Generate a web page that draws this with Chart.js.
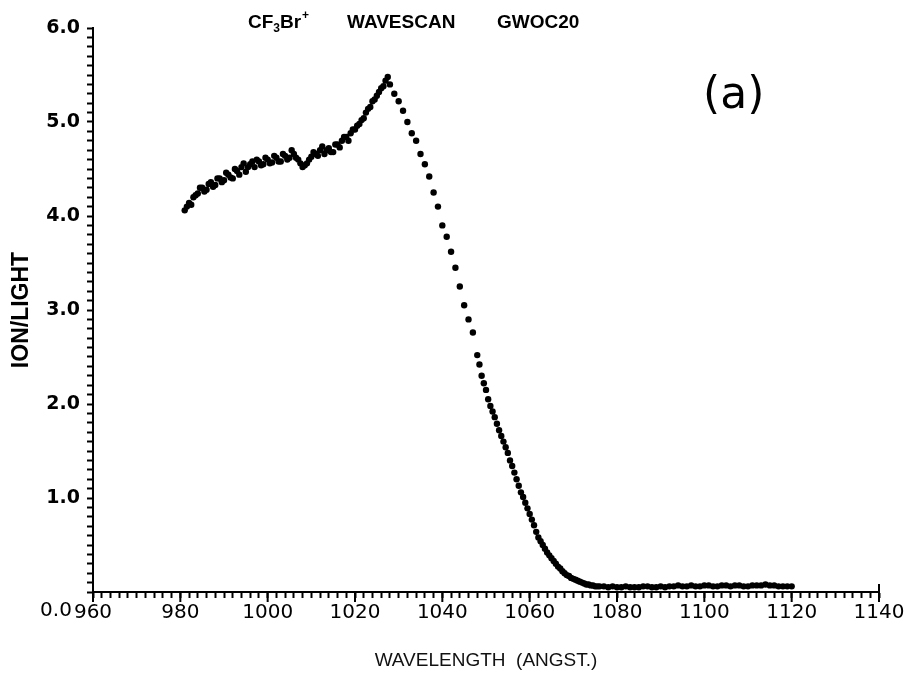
<!DOCTYPE html>
<html>
<head>
<meta charset="utf-8">
<script src="https://cdn.jsdelivr.net/npm/chart.js@4/dist/chart.umd.min.js"></script>
<style>
  html, body { margin: 0; padding: 0; background: #fff; }
  #wrap { width: 908px; height: 676px; }
</style>
</head>
<body>
<div id="wrap"><canvas id="scan" width="908" height="676"></canvas></div>
<script>
// wavelength (Angstrom) and ion/light ratio
const wavelength = [
  981, 981.5, 982, 982.5, 983, 983.5, 984, 984.5, 985, 985.5, 986, 986.5, 987, 987.5, 988, 988.5, 989, 989.5, 990, 990.5,
  991, 991.5, 992, 992.5, 993, 993.5, 994, 994.5, 995, 995.5, 996, 996.5, 997, 997.5, 998, 998.5, 999, 999.5, 1000, 1000.5,
  1001, 1001.5, 1002, 1002.5, 1003, 1003.5, 1004, 1004.5, 1005, 1005.5, 1006, 1006.5, 1007, 1007.5, 1008, 1008.5, 1009, 1009.5, 1010, 1010.5,
  1011, 1011.5, 1012, 1012.5, 1013, 1013.5, 1014, 1014.5, 1015, 1015.5, 1016, 1016.5, 1017, 1017.5, 1018, 1018.5, 1019, 1019.5, 1020, 1020.5,
  1021, 1021.5, 1022, 1022.5, 1023, 1023.5, 1024, 1024.5, 1025, 1025.5, 1026, 1026.5, 1027, 1027.5,
  1028, 1029, 1030, 1031, 1032, 1033, 1034, 1035, 1036, 1037, 1038, 1039, 1040, 1041, 1042, 1043, 1044, 1045, 1046, 1047,
  1048, 1048.5, 1049, 1049.5, 1050, 1050.5, 1051, 1051.5, 1052, 1052.5, 1053, 1053.5, 1054, 1054.5, 1055, 1055.5,
  1056, 1056.5, 1057, 1057.5, 1058, 1058.5, 1059, 1059.5, 1060, 1060.5, 1061, 1061.5, 1062, 1062.5, 1063, 1063.5,
  1064, 1064.5, 1065, 1065.5, 1066, 1066.5, 1067, 1067.5, 1068, 1068.5, 1069, 1069.5, 1070, 1070.5, 1071, 1071.5,
  1072, 1072.5, 1073, 1073.5, 1074, 1074.5, 1075, 1075.5,
  1076, 1077, 1078, 1079, 1080, 1081, 1082, 1083, 1084, 1085, 1086, 1087, 1088, 1089, 1090,
  1091, 1092, 1093, 1094, 1095, 1096, 1097, 1098, 1099, 1100, 1101, 1102, 1103, 1104, 1105,
  1106, 1107, 1108, 1109, 1110, 1111, 1112, 1113, 1114, 1115, 1116, 1117, 1118, 1119, 1120
];
const ionLight = [
  4.06, 4.10, 4.14, 4.12, 4.20, 4.22, 4.24, 4.30, 4.30, 4.26, 4.28, 4.34, 4.36, 4.31, 4.33, 4.40, 4.40, 4.36, 4.38, 4.46,
  4.44, 4.41, 4.40, 4.50, 4.48, 4.44, 4.52, 4.56, 4.47, 4.52, 4.55, 4.58, 4.52, 4.60, 4.58, 4.54, 4.55, 4.62, 4.60, 4.56,
  4.57, 4.64, 4.62, 4.58, 4.58, 4.66, 4.64, 4.60, 4.62, 4.70, 4.66, 4.62, 4.60, 4.56, 4.52, 4.54, 4.56, 4.60, 4.63, 4.68,
  4.66, 4.64, 4.70, 4.74, 4.66, 4.70, 4.72, 4.68, 4.68, 4.76, 4.76, 4.73, 4.80, 4.84, 4.84, 4.80, 4.88, 4.92, 4.92, 4.96,
  4.98, 5.02, 5.04, 5.10, 5.14, 5.16, 5.22, 5.24, 5.28, 5.32, 5.36, 5.38, 5.44, 5.48,
  5.40, 5.30, 5.22, 5.12, 5.00, 4.88, 4.80, 4.66, 4.55, 4.42, 4.25, 4.10, 3.90, 3.78, 3.62, 3.45, 3.25, 3.05, 2.90, 2.76,
  2.52, 2.42, 2.30, 2.22, 2.15, 2.05, 1.98, 1.92, 1.86, 1.79, 1.72, 1.66, 1.60, 1.54, 1.48, 1.40,
  1.34, 1.27, 1.20, 1.13, 1.06, 1.01, 0.95, 0.89, 0.83, 0.77, 0.71, 0.64, 0.58, 0.54, 0.50, 0.46,
  0.42, 0.39, 0.36, 0.33, 0.30, 0.27, 0.25, 0.22, 0.20, 0.18, 0.17, 0.15, 0.14, 0.13, 0.12, 0.11,
  0.10, 0.09, 0.08, 0.08, 0.07, 0.07, 0.06, 0.06,
  0.06, 0.06, 0.05, 0.06, 0.05, 0.05, 0.06, 0.05, 0.05, 0.05, 0.06, 0.06, 0.05, 0.05, 0.06,
  0.05, 0.06, 0.06, 0.07, 0.06, 0.06, 0.07, 0.06, 0.06, 0.07, 0.07, 0.06, 0.06, 0.07, 0.07,
  0.06, 0.07, 0.07, 0.06, 0.06, 0.07, 0.07, 0.07, 0.08, 0.07, 0.07, 0.06, 0.06, 0.06, 0.06
];
const xLabelTicks = [960, 980, 1000, 1020, 1040, 1060, 1080, 1100, 1120, 1140];
const yLabelTicks = [1, 2, 3, 4, 5, 6];

const points = wavelength.map((w, i) => ({ x: w, y: ionLight[i] }));

// extra text: title line, panel mark, the "0.0" that sits beside 960
const extras = {
  id: 'extras',
  afterDraw(chart) {
    const ctx = chart.ctx;
    const xs = chart.scales.x;
    ctx.save();
    ctx.fillStyle = '#000';

    // longer major ticks on x
    ctx.strokeStyle = '#000';
    ctx.lineWidth = 2;
    xLabelTicks.forEach(v => {
      const px = xs.getPixelForValue(v);
      ctx.beginPath();
      ctx.moveTo(px, xs.top);
      ctx.lineTo(px, xs.top + 10);
      ctx.stroke();
    });
    // small upturn at the right end of the x axis
    const xe = xs.getPixelForValue(1140);
    ctx.beginPath();
    ctx.moveTo(xe, xs.top);
    ctx.lineTo(xe, xs.top - 8);
    ctx.stroke();

    // "0.0" printed on the x label line
    ctx.font = '20px "DejaVu Sans"';
    const w960 = ctx.measureText('960').width;
    ctx.textAlign = 'right';
    ctx.textBaseline = 'top';
    ctx.fillText('0.0', xs.getPixelForValue(960) - w960 / 2 - 2, xs.top + 9);

    // title
    ctx.textAlign = 'left';
    ctx.textBaseline = 'alphabetic';
    ctx.font = 'bold 19px "Liberation Sans"';
    let x = 248;
    ctx.fillText('CF', x, 28); x += ctx.measureText('CF').width;
    ctx.font = 'bold 12px "Liberation Sans"';
    ctx.fillText('3', x, 32); x += ctx.measureText('3').width;
    ctx.font = 'bold 19px "Liberation Sans"';
    ctx.fillText('Br', x, 28); x += ctx.measureText('Br').width + 1;
    ctx.font = 'bold 12px "Liberation Sans"';
    ctx.fillText('+', x, 19);
    ctx.font = 'bold 19px "Liberation Sans"';
    ctx.fillText('WAVESCAN', 347, 28);
    ctx.fillText('GWOC20', 497, 28);

    // panel mark
    ctx.font = '44px "DejaVu Sans"';
    ctx.fillText('(a)', 703, 108);
    ctx.restore();
  }
};

new Chart(document.getElementById('scan'), {
  type: 'scatter',
  data: {
    datasets: [{
      data: points,
      backgroundColor: '#000',
      borderColor: '#000',
      pointRadius: 3.2,
      pointBorderWidth: 0,
      showLine: false
    }]
  },
  options: {
    responsive: false,
    animation: false,
    layout: { padding: { top: 28, right: 29, left: 0, bottom: 0 } },
    plugins: {
      legend: { display: false },
      tooltip: { enabled: false }
    },
    scales: {
      x: {
        type: 'linear',
        min: 960,
        max: 1140,
        afterFit: s => { s.height = 84; },
        border: { color: '#000', width: 2 },
        grid: { drawOnChartArea: false, tickLength: 6, tickWidth: 2, tickColor: '#000' },
        ticks: {
          stepSize: 2,
          maxTicksLimit: 200,
          autoSkip: false,
          maxRotation: 0,
          padding: 3,
          color: '#000',
          font: { family: 'DejaVu Sans', size: 20 },
          callback: v => xLabelTicks.includes(v) ? String(v) : ''
        },
        title: {
          display: true,
          text: 'WAVELENGTH  (ANGST.)',
          color: '#111',
          font: { family: 'Liberation Sans', size: 19 },
          padding: { top: 0, bottom: 4 }
        }
      },
      y: {
        min: 0,
        max: 6,
        afterFit: s => { s.width = 93; },
        border: { color: '#000', width: 2 },
        grid: { drawOnChartArea: false, tickLength: 6, tickWidth: 2, tickColor: '#000' },
        ticks: {
          stepSize: 0.1,
          maxTicksLimit: 200,
          autoSkip: false,
          padding: 7,
          color: '#000',
          font: { family: 'DejaVu Sans', size: 19, weight: 'bold' },
          callback: v => {
            const r = Math.round(v);
            return Math.abs(v - r) < 1e-6 && yLabelTicks.includes(r) ? r.toFixed(1) : '';
          }
        },
        title: {
          display: true,
          text: 'ION/LIGHT',
          color: '#000',
          font: { family: 'Liberation Sans', size: 23, weight: 'bold' },
          padding: { top: 8, bottom: 0 }
        }
      }
    }
  },
  plugins: [extras]
});
</script>
</body>
</html>
